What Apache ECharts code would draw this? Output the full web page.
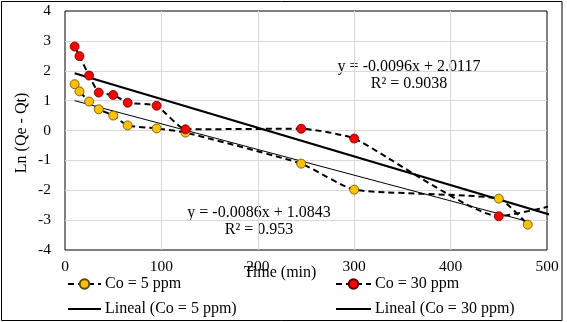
<!DOCTYPE html>
<html>
<head>
<meta charset="utf-8">
<script src="https://cdn.jsdelivr.net/npm/echarts@6/dist/echarts.min.js"></script>
<style>
  html, body { margin: 0; padding: 0; background: #fff; }
  #chart { width: 567px; height: 322px; }
</style>
</head>
<body>
<div id="chart"></div>
<script>
// Pseudo-first-order kinetics: ln(Qe - Qt) versus contact time
const time5 = [10, 15, 25, 35, 50, 65, 95, 125, 245, 300, 450, 480];
const ln5 = [1.55, 1.31, 0.97, 0.71, 0.50, 0.17, 0.07, -0.07, -1.11, -1.98, -2.28, -3.15];
const time30 = [10, 15, 25, 35, 50, 65, 95, 125, 245, 300, 450, 515];
const ln30 = [2.81, 2.49, 1.84, 1.27, 1.19, 0.93, 0.83, 0.04, 0.06, -0.27, -2.87, -2.45];

// Linear fits
const fit5 = { slope: -0.0086, intercept: 1.0843, r2: '0.953' };
const fit30 = { slope: -0.0096, intercept: 2.0117, r2: '0.9038' };

const xTicks = [0, 100, 200, 300, 400, 500];
const yTicks = [-4, -3, -2, -1, 0, 1, 2, 3, 4];

const FONT = '"Liberation Serif", "Times New Roman", serif';

function pairs(xs, ys) { return xs.map((x, i) => [x, ys[i]]); }
function fitLine(fit, xs) {
  const a = Math.min(...xs), b = Math.max(...xs);
  return [[a, fit.intercept + fit.slope * a], [b, fit.intercept + fit.slope * b]];
}
function eqText(fit) {
  return 'y = ' + fit.slope + 'x + ' + fit.intercept.toFixed(4) + '\nR² = ' + fit.r2;
}

function legendItem(name, left, top, width, hideSymbol) {
  const item = { name: name };
  if (hideSymbol) item.itemStyle = { opacity: 0 };
  return {
    left: left, top: top, padding: 0, itemWidth: width, itemHeight: 12, itemGap: 0,
    textStyle: { fontFamily: FONT, fontSize: 16, color: '#000', padding: [0, 0, 0, -1] },
    data: [item]
  };
}

const chart = echarts.init(document.getElementById('chart'), null, { renderer: 'canvas' });

const option = {
  animation: false,
  backgroundColor: '#fff',
  textStyle: { fontFamily: FONT, color: '#000' },
  grid: { left: 65, right: 20, top: 11, bottom: 72, show: true, borderColor: '#000', borderWidth: 1, containLabel: false },
  xAxis: {
    type: 'value', min: xTicks[0], max: xTicks[xTicks.length - 1], interval: 100,
    axisLine: { show: false, onZero: true },
    axisTick: { show: false },
    axisLabel: { color: '#000', fontFamily: FONT, fontSize: 15.5, margin: 9 },
    splitLine: { show: true, showMinLine: false, showMaxLine: false, lineStyle: { color: '#d9d9d9', width: 1 } }
  },
  yAxis: {
    type: 'value', min: yTicks[0], max: yTicks[yTicks.length - 1], interval: 1,
    axisLine: { show: false },
    axisTick: { show: false },
    axisLabel: { color: '#000', fontFamily: FONT, fontSize: 15.5, margin: 14 },
    splitLine: { show: true, showMinLine: false, showMaxLine: false, lineStyle: { color: '#d9d9d9', width: 1 } }
  },
  legend: [
    legendItem('Co = 5 ppm', 67, 276, 33, false),
    legendItem('Lineal (Co = 5 ppm)', 67, 301, 33, true),
    legendItem('Co = 30 ppm', 335, 276, 35, false),
    legendItem('Lineal (Co = 30 ppm)', 335, 301, 35, true)
  ],
  graphic: [
    { type: 'rect', shape: { x: 1.5, y: 1.5, width: 560.5, height: 319 }, style: { fill: 'none', stroke: '#000', lineWidth: 1 }, silent: true, z: -1 },
    { type: 'text', style: { text: 'Time (min)', font: '16px ' + FONT, fill: '#000', x: 280, y: 273, align: 'center', verticalAlign: 'middle' } },
    { type: 'text', rotation: Math.PI / 2, x: 22, y: 133, style: { text: 'Ln (Qe - Qt)', font: '16px ' + FONT, fill: '#000', align: 'center', verticalAlign: 'middle' } },
    { type: 'text', style: { text: eqText(fit30), font: '16px ' + FONT, fill: '#000', x: 409, y: 75, align: 'center', verticalAlign: 'middle', lineHeight: 17 } },
    { type: 'text', style: { text: eqText(fit5), font: '16px ' + FONT, fill: '#000', x: 259, y: 221, align: 'center', verticalAlign: 'middle', lineHeight: 17 } }
  ],
  series: [
    {
      name: 'Lineal (Co = 5 ppm)', type: 'line', data: fitLine(fit5, time5), showSymbol: false, symbol: 'none',
      lineStyle: { color: '#000', width: 1 }, itemStyle: { color: '#000' }, z: 2, clip: true
    },
    {
      name: 'Lineal (Co = 30 ppm)', type: 'line', data: fitLine(fit30, time30), showSymbol: false, symbol: 'none',
      lineStyle: { color: '#000', width: 2.2 }, itemStyle: { color: '#000' }, z: 2, clip: true
    },
    {
      name: 'Co = 5 ppm', type: 'line', data: pairs(time5, ln5), smooth: 0.17,
      symbol: 'circle', symbolSize: 9,
      lineStyle: { color: '#000', width: 2, type: [6, 4] },
      itemStyle: { color: '#FFC000', borderColor: '#5a4a00', borderWidth: 0.8 },
      z: 3, clip: true
    },
    {
      name: 'Co = 30 ppm', type: 'line', data: pairs(time30, ln30), smooth: 0.17,
      symbol: 'circle', symbolSize: 9,
      lineStyle: { color: '#000', width: 2, type: [6, 4] },
      itemStyle: { color: '#FF0000', borderColor: '#5a0000', borderWidth: 0.8 },
      z: 3, clip: true
    }
  ]
};

chart.setOption(option);
</script>
</body>
</html>
